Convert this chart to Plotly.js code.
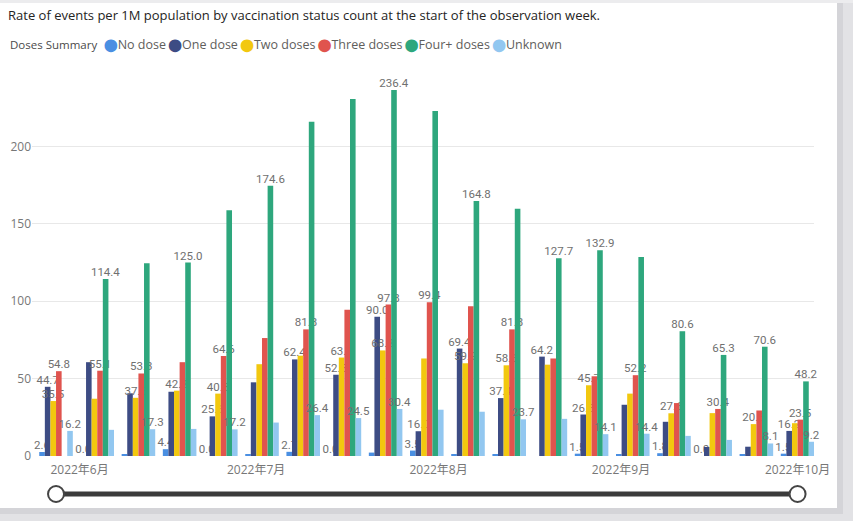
<!DOCTYPE html>
<html>
<head>
<meta charset="utf-8">
<script src="https://cdn.plot.ly/plotly-3.0.1.min.js"></script>
<style>
  html, body { margin: 0; padding: 0; background: #fff; }
  #chart { width: 853px; height: 521px; }
</style>
</head>
<body>
<div id="chart"></div>
<script>
// semanas (inicio de la semana de observación)
const weeks = [
  "2022-05-28", "2022-06-04", "2022-06-11", "2022-06-18", "2022-06-25",
  "2022-07-02", "2022-07-09", "2022-07-16", "2022-07-23", "2022-07-30",
  "2022-08-06", "2022-08-13", "2022-08-20", "2022-08-27", "2022-09-03",
  "2022-09-10", "2022-09-17", "2022-09-24", "2022-10-01"
];

const seriesNames = ["No dose", "One dose", "Two doses", "Three doses", "Four+ doses", "Unknown"];
const seriesColors = ["#4A8FE2", "#3D4C84", "#F2C80F", "#E0544E", "#2EA77D", "#92C7F0"];

const noDose     = [2.6, 0.0, 1.0, 4.4, 0.0, 1.0, 2.7, 0.0, 2.2, 3.5, 1.0, 1.2, 0.0, 1.5, 0.8, 1.8, 0.0, 1.0, 1.5];
const oneDose    = [44.7, 60.6, 40.5, 41.5, 25.6, 47.6, 62.4, 52.5, 90.0, 16.0, 69.4, 37.4, 64.2, 26.8, 33.1, 22.1, 5.8, 6.0, 16.2];
const twoDoses   = [35.5, 37.0, 37.6, 42.2, 40.3, 59.3, 64.8, 63.6, 68.2, 63.0, 59.9, 58.6, 59.0, 45.7, 40.3, 27.6, 27.7, 20.6, 21.2];
const threeDoses = [54.8, 55.1, 53.3, 60.6, 64.6, 76.2, 81.8, 94.4, 97.8, 99.4, 96.8, 81.8, 63.0, 51.5, 52.2, 34.2, 30.4, 29.4, 23.5];
const fourDoses  = [null, 114.4, 124.5, 125.0, 158.8, 174.6, 215.9, 230.6, 236.4, 222.8, 164.8, 159.7, 127.7, 132.9, 128.6, 80.6, 65.3, 70.6, 48.2];
const unknown    = [16.2, 16.9, 17.3, 17.5, 17.2, 21.6, 26.4, 24.5, 30.4, 29.9, 28.6, 23.7, 24.0, 14.1, 14.4, 13.0, 10.4, 8.1, 9.2];

// etiquetas visibles (Power BI oculta las que se solapan)
const labelsShown = [
  [0, 1, 3, 4, 6, 7, 9, 13, 15, 16, 18],
  [0, 4, 6, 7, 8, 9, 10, 11, 12, 13, 18],
  [0, 2, 3, 4, 7, 8, 10, 11, 13, 15, 17],
  [0, 1, 2, 4, 6, 8, 9, 11, 14, 16, 18],
  [1, 3, 5, 8, 10, 12, 13, 15, 16, 17, 18],
  [0, 2, 4, 6, 7, 8, 11, 13, 14, 17, 18]
];

const monthTicks  = ["2022-06-01", "2022-07-01", "2022-08-01", "2022-09-01", "2022-10-01"];
const monthLabels = ["2022年6月", "2022年7月", "2022年8月", "2022年9月", "2022年10月"];
const yTicks = [0, 50, 100, 150, 200];

const allSeries = [noDose, oneDose, twoDoses, threeDoses, fourDoses, unknown];

// geometría del área de trazado (px)
const W = 853, H = 521;
const M = { l: 32, r: 39, t: 69, b: 65 };
const plotW = W - M.l - M.r;
const plotH = H - M.t - M.b;
const px2x = px => (px - M.l) / plotW;
const px2y = py => (H - M.b - py) / plotH;

const traces = allSeries.map((vals, s) => ({
  type: "bar",
  name: seriesNames[s],
  x: weeks,
  y: vals,
  marker: { color: seriesColors[s] },
  text: vals.map((v, i) => (labelsShown[s].includes(i) && v !== null) ? v.toFixed(1) : ""),
  textposition: "outside",
  constraintext: "none",
  cliponaxis: false,
  textfont: { family: "Roboto, sans-serif", size: 11.5, color: "#707070" },
  showlegend: false,
  hoverinfo: "x+y+name"
}));

// leyenda estilo Power BI
const legendText = '<span style="color:#4a4a4a;font-size:11.5px">Doses Summary</span>  ' + seriesNames.map((n, s) =>
  '<span style="color:' + seriesColors[s] + ';font-family:DejaVu Sans;font-size:12.5px">⬤</span>' + n
).join("\u2009");

const sliderY = px2y(494);
const shadow = "#d4d4d8";

const layout = {
  width: W,
  height: H,
  margin: M,
  paper_bgcolor: "#ffffff",
  plot_bgcolor: "#ffffff",
  barmode: "group",
  bargap: 0.185,
  bargroupgap: 0,
  title: {
    text: "Rate of events per 1M population by vaccination status count at the start of the observation week.",
    x: 8 / W, xanchor: "left", xref: "container",
    y: 1 - 15 / H, yanchor: "middle", yref: "container",
    font: { family: "Open Sans, sans-serif", size: 13, color: "#252423" }
  },
  xaxis: {
    type: "date",
    range: ["2022-05-23 22:00", "2022-10-03 19:00"],
    tickvals: monthTicks,
    ticktext: monthLabels,
    showgrid: false,
    showline: false,
    zeroline: false,
    ticks: "",
    ticklabelstandoff: 5,
    tickfont: { family: "Open Sans, Noto Sans CJK SC, sans-serif", size: 12, color: "#777777" }
  },
  yaxis: {
    range: [0, 250],
    tickvals: yTicks,
    showgrid: true,
    gridcolor: "#e8e8e8",
    zeroline: false,
    showline: false,
    ticks: "",
    tickfont: { family: "Open Sans, sans-serif", size: 12, color: "#777777" }
  },
  annotations: [{
    xref: "paper", yref: "paper",
    x: px2x(8), y: px2y(44),
    xanchor: "left", yanchor: "middle",
    showarrow: false,
    text: legendText,
    font: { family: "Open Sans, sans-serif", size: 12.5, color: "#605E5C" }
  }],
  shapes: [
    // sombra de la tarjeta
    { type: "rect", xref: "paper", yref: "paper", x0: px2x(843), x1: px2x(853), y0: px2y(521), y1: px2y(3),
      fillcolor: "#e2e2e5", line: { width: 0 }, layer: "below" },
    { type: "rect", xref: "paper", yref: "paper", x0: px2x(837), x1: px2x(843), y0: px2y(514), y1: px2y(3),
      fillcolor: shadow, line: { width: 0 }, layer: "below" },
    { type: "rect", xref: "paper", yref: "paper", x0: px2x(0), x1: px2x(853), y0: px2y(521), y1: px2y(514),
      fillcolor: "#e2e2e5", line: { width: 0 }, layer: "below" },
    { type: "rect", xref: "paper", yref: "paper", x0: px2x(0), x1: px2x(843), y0: px2y(514), y1: px2y(508),
      fillcolor: shadow, line: { width: 0 }, layer: "below" },
    { type: "rect", xref: "paper", yref: "paper", x0: px2x(0), x1: px2x(853), y0: px2y(3), y1: px2y(0),
      fillcolor: "#ececee", line: { width: 0 }, layer: "below" },
    // deslizador de rango
    { type: "line", xref: "x", yref: "paper", x0: weeks[0], x1: weeks[weeks.length - 1], y0: sliderY, y1: sliderY,
      line: { color: "#3b3b3b", width: 5 } },
    { type: "circle", xref: "x", yref: "paper", xsizemode: "pixel", ysizemode: "pixel",
      xanchor: weeks[0], yanchor: sliderY, x0: -8, x1: 8, y0: -8, y1: 8,
      fillcolor: "#ffffff", line: { color: "#444444", width: 2 } },
    { type: "circle", xref: "x", yref: "paper", xsizemode: "pixel", ysizemode: "pixel",
      xanchor: weeks[weeks.length - 1], yanchor: sliderY, x0: -8, x1: 8, y0: -8, y1: 8,
      fillcolor: "#ffffff", line: { color: "#444444", width: 2 } }
  ]
};

Plotly.newPlot("chart", traces, layout, { displayModeBar: false, responsive: false });
</script>
</body>
</html>
